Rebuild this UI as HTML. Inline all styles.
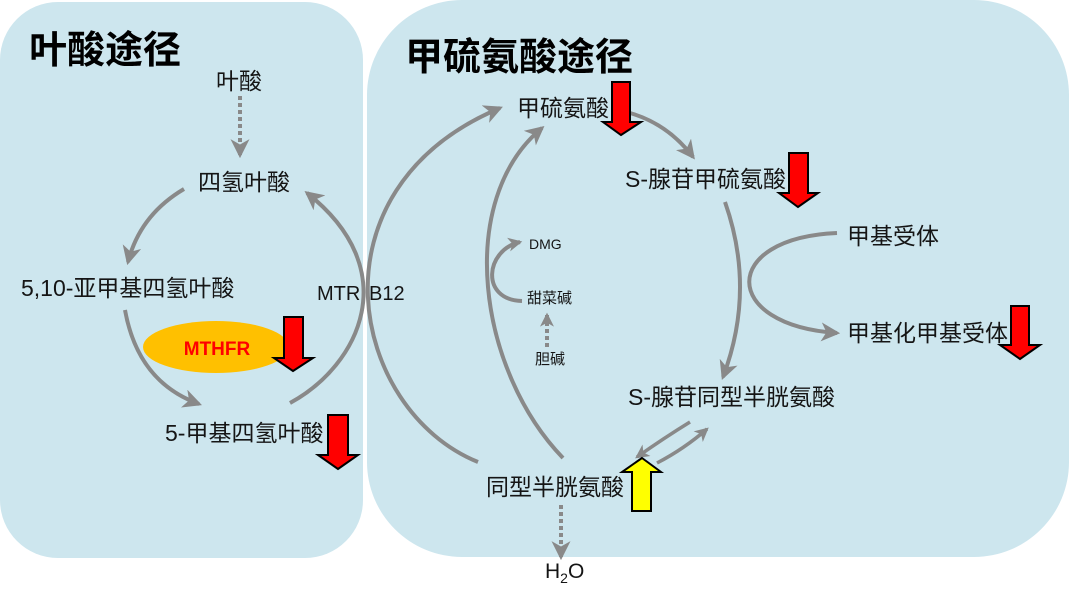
<!DOCTYPE html>
<html><head><meta charset="utf-8">
<style>
html,body{margin:0;padding:0;background:#fff;}
svg{display:block;}
text{font-family:"Liberation Sans","Noto Sans CJK SC",sans-serif;fill:#151515;}
</style></head>
<body>
<svg width="1069" height="598" viewBox="0 0 1069 598" xmlns="http://www.w3.org/2000/svg">
<defs>
<marker id="ah" markerUnits="userSpaceOnUse" viewBox="0 0 18 18" markerWidth="19" markerHeight="19" refX="15" refY="9" orient="auto">
<path d="M0,0 L18,9 L0,18 L5,9 Z" fill="#898989"/>
</marker>
<marker id="ahs" markerUnits="userSpaceOnUse" viewBox="0 0 18 18" markerWidth="14" markerHeight="14" refX="15" refY="9" orient="auto">
<path d="M0,0 L18,9 L0,18 L5,9 Z" fill="#898989"/>
</marker>
</defs>

<!-- panels -->
<rect x="0" y="2" width="363" height="556" rx="58" ry="58" fill="#cde6ee"/>
<rect x="367" y="0" width="702" height="557" rx="95" ry="95" fill="#cde6ee"/>

<!-- titles -->
<text x="29" y="63" font-size="38" font-weight="700" style="fill:#000">叶酸途径</text>
<text x="405" y="70" font-size="38" font-weight="700" style="fill:#000">甲硫氨酸途径</text>

<!-- connectors -->
<g fill="none" stroke="#898989" stroke-width="4">
<path d="M240,96 L240,155" stroke-dasharray="4 3" marker-end="url(#ah)"/>
<path d="M184,189 Q140,215 128,262" marker-end="url(#ah)"/>
<path d="M125,310 Q138,382 199,404" marker-end="url(#ah)"/>
<path d="M290,403 C360,365 405,270 307,193" marker-end="url(#ah)"/>
<path d="M478,462 C350,410 305,190 500,108" marker-end="url(#ah)"/>
<path d="M563,458 C478,370 455,200 542,128" marker-end="url(#ah)"/>
<path d="M522,301 C480,300 485,250 520,242" marker-end="url(#ahs)"/>
<path d="M547,347 L547,315" stroke-dasharray="4 3" marker-end="url(#ahs)"/>
<path d="M630,113 Q668,124 693,157" marker-end="url(#ah)"/>
<path d="M725,202 Q756,290 723,377" marker-end="url(#ah)"/>
<path d="M837,233 C720,238 720,325 837,333" marker-end="url(#ah)"/>
<path d="M561,505 L561,557" stroke-dasharray="4 3" marker-end="url(#ah)"/>
<path d="M690,422 Q664,438 637,457" stroke-width="3.5" marker-end="url(#ahs)"/>
<path d="M657,463 Q684,449 707,429" stroke-width="3.5" marker-end="url(#ahs)"/>
</g>

<!-- MTHFR ellipse -->
<ellipse cx="216" cy="347" rx="73" ry="26" fill="#ffc000"/>
<text x="217" y="355" font-size="19" font-weight="700" text-anchor="middle" style="fill:#ff0000">MTHFR</text>

<!-- node labels -->
<g font-size="23">
<text x="216" y="89">叶酸</text>
<text x="198" y="190">四氢叶酸</text>
<text x="21" y="296">5,10-亚甲基四氢叶酸</text>
<text x="165" y="441">5-甲基四氢叶酸</text>
<text x="517" y="116">甲硫氨酸</text>
<text x="625" y="187">S-腺苷甲硫氨酸</text>
<text x="847" y="244">甲基受体</text>
<text x="847" y="341">甲基化甲基受体</text>
<text x="628" y="405">S-腺苷同型半胱氨酸</text>
<text x="486" y="495">同型半胱氨酸</text>
</g>
<text x="317" y="300" font-size="20">MTR</text>
<text x="369" y="300" font-size="20">B12</text>
<text x="529" y="249" font-size="14">DMG</text>
<text x="527" y="303" font-size="15">甜菜碱</text>
<text x="535" y="364" font-size="15">胆碱</text>
<text x="545" y="578" font-size="21">H<tspan font-size="14" dy="5">2</tspan><tspan dy="-5">O</tspan></text>

<!-- block arrows -->
<g stroke="#000" stroke-width="2" stroke-linejoin="miter">
<polygon points="612,82 630,82 630,122 641,122 621,135 603,122 612,122" fill="#ff0000"/>
<polygon points="789,153 808,153 808,193 818,193 798,207 779,193 789,193" fill="#ff0000"/>
<polygon points="284,317 303,317 303,358 313,358 293,371 274,358 284,358" fill="#ff0000"/>
<polygon points="328,415 348,415 348,455 358,455 338,469 318,455 328,455" fill="#ff0000"/>
<polygon points="1011,306 1029,306 1029,345 1040,345 1020,359 1000,345 1011,345" fill="#ff0000"/>
<polygon points="642,458 661,472 651,472 651,511 632,511 632,472 622,472" fill="#ffff00"/>
</g>
</svg>
</body></html>
